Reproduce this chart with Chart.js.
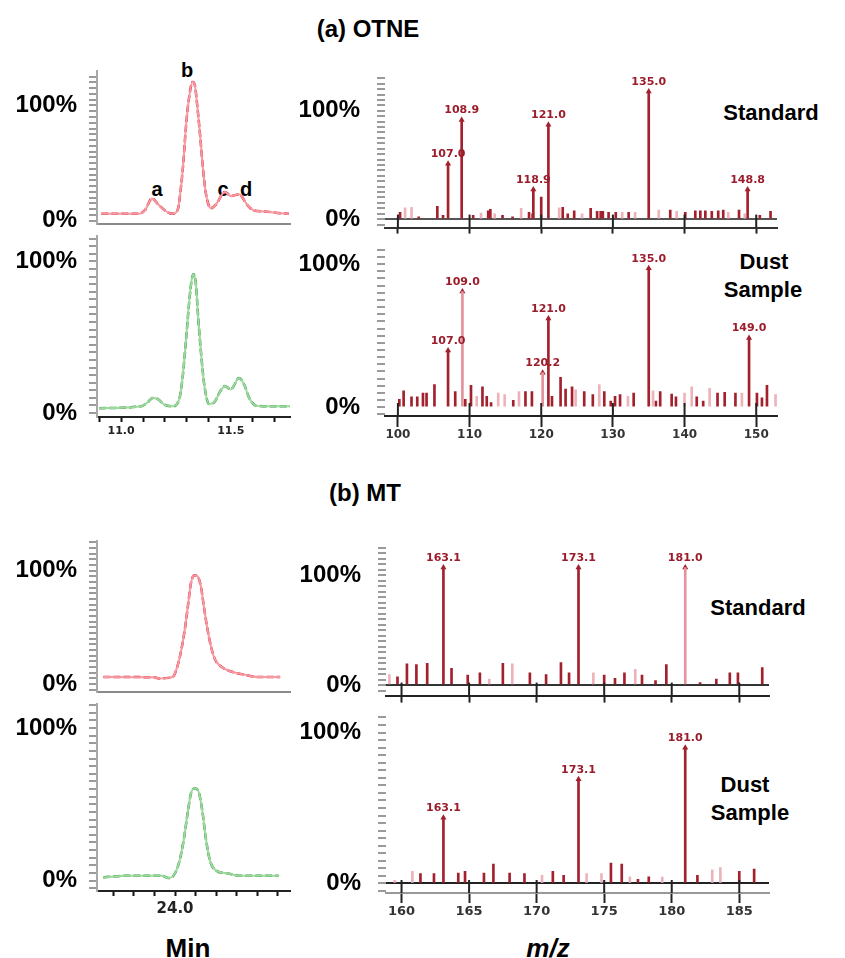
<!DOCTYPE html>
<html>
<head>
<meta charset="utf-8">
<script src="https://cdn.jsdelivr.net/npm/chart.js@4.4.1/dist/chart.umd.min.js"></script>
<style>
    body {margin:0; background:#fff; width:845px; height:958px; position:relative; overflow:hidden; font-family:"Liberation Sans", Arial, sans-serif;}
    .box {position:absolute;}
    .txt {position:absolute; transform:translate(-50%,-50%); font-weight:bold; line-height:1; white-space:nowrap; color:#000;}
</style>
</head>
<body>
<div class="txt" style="left:368px;top:29px;font-size:24px">(a) OTNE</div>
<div class="txt" style="left:365px;top:493px;font-size:24px">(b) MT</div>
<div class="txt" style="left:771px;top:113px;font-size:22px">Standard</div>
<div class="txt" style="left:764px;top:262px;font-size:22px">Dust</div>
<div class="txt" style="left:763px;top:290px;font-size:22px">Sample</div>
<div class="txt" style="left:758px;top:608px;font-size:22px">Standard</div>
<div class="txt" style="left:745px;top:785px;font-size:22px">Dust</div>
<div class="txt" style="left:750px;top:813px;font-size:22px">Sample</div>
<div class="txt" style="left:157px;top:189px;font-size:20px">a</div>
<div class="txt" style="left:187px;top:70px;font-size:20px">b</div>
<div class="txt" style="left:223px;top:189px;font-size:20px">c</div>
<div class="txt" style="left:246px;top:189px;font-size:20px">d</div>
<div class="txt" style="left:188px;top:948px;font-size:26px">Min</div>
<div class="txt" style="left:548px;top:948px;font-size:26px;font-style:italic">m/z</div>

<script>
// ---- (a) OTNE chromatograms (retention time in min, relative abundance in %)
const otneStdTime = [10.91, 11.08, 11.11, 11.14, 11.17, 11.20, 11.235, 11.258, 11.273, 11.285, 11.295, 11.308, 11.326, 11.336,
    11.349, 11.361, 11.373, 11.386, 11.409, 11.432, 11.473, 11.50, 11.538, 11.576, 11.606, 11.652, 11.712, 11.765];
const otneStdAbund = [5.9, 5.9, 9.4, 19.3, 13.9, 8.8, 5.9, 9.4, 29.4, 53.5, 80.2, 104.3, 120.3, 117.6,
    96.2, 72.2, 45.5, 24.1, 10.7, 13.9, 24.9, 21.4, 22.8, 13.4, 8.8, 8.0, 6.7, 5.9];
const otneDustTime = [10.90, 11.091, 11.121, 11.144, 11.167, 11.197, 11.235, 11.265, 11.28, 11.295, 11.311, 11.321, 11.33, 11.341,
    11.351, 11.364, 11.379, 11.401, 11.424, 11.455, 11.473, 11.50, 11.538, 11.561, 11.583, 11.614, 11.667, 11.77];
const otneDustAbund = [3.2, 4.5, 7.1, 9.9, 9.2, 5.6, 4.5, 9.2, 23.1, 46.6, 74.4, 87.2, 91.5, 85.1,
    63.7, 40.2, 18.8, 6.0, 7.1, 15.0, 17.8, 15.6, 23.1, 18.8, 10.3, 4.9, 4.5, 4.5];
const otneTimeTicks = [11.0, 11.5];

// ---- (b) MT chromatograms
const mtStdTime = [23.651, 23.902, 23.919, 23.968, 23.992, 24.008, 24.024, 24.046, 24.062, 24.078, 24.095, 24.111, 24.127,
    24.139, 24.155, 24.176, 24.195, 24.228, 24.277, 24.341, 24.407, 24.512];
const mtStdAbund = [6.2, 5.9, 4.9, 5.4, 6.8, 13.5, 24.3, 46.0, 67.6, 89.2, 95.9, 94.6, 85.2,
    70.3, 51.4, 32.4, 21.6, 14.9, 10.8, 8.1, 6.2, 6.2];
const mtDustTime = [23.651, 23.773, 23.935, 23.968, 23.992, 24.017, 24.041, 24.062, 24.078, 24.098, 24.117, 24.134, 24.15,
    24.171, 24.203, 24.26, 24.309, 24.407, 24.504];
const mtDustAbund = [2.1, 3.2, 3.2, 1.7, 3.2, 10.6, 25.5, 44.7, 57.4, 60.6, 57.4, 44.7, 27.7,
    12.8, 6.4, 4.7, 3.2, 3.2, 3.2];
const mtTimeTicks = [24.0];

// ---- (a) OTNE mass spectra
const stdA_mz = [100.3, 102.9, 105.5, 106.3, 110.5, 112.6, 112.9, 114.6, 116.0, 118.3, 118.8, 120.0, 123.0, 123.7, 124.6, 126.9,
    127.8, 128.3, 128.6, 129.4, 130.4, 132.2, 138.0, 140.1, 141.5, 142.2, 142.9, 143.8, 144.7, 145.4, 147.6, 150.5, 152.0];
const stdA_int = [6.3, 2.2, 11.8, 3.6, 3.6, 7.7, 9.1, 3.6, 2.2, 6.3, 5.0, 20.3, 11.0, 5.0, 7.7, 9.9,
    7.2, 7.2, 7.2, 6.3, 6.3, 6.3, 8.3, 6.3, 7.7, 7.7, 7.7, 7.2, 7.7, 8.3, 8.3, 3.6, 7.2];
const stdA_mzLight = [101.0, 101.9, 111.6, 113.5, 117.2, 122.5, 125.7, 131.3, 133.1, 136.4, 138.9, 146.1, 148.4];
const stdA_intLight = [10.5, 11.0, 5.5, 5.0, 9.9, 10.5, 5.0, 6.3, 6.3, 8.3, 7.2, 6.3, 5.0];
const stdA_peakMz = [107.0, 108.9, 118.9, 121.0, 135.0, 148.8];
const stdA_peakInt = [51.0, 91.4, 27.3, 87.2, 117.8, 27.3];
const stdA_peakLabel = ['107.0', '108.9', '118.9', '121.0', '135.0', '148.8'];

const dustA_mz = [100.2, 100.8, 101.9, 102.7, 103.5, 104.0, 105.1, 108.0, 109.4, 110.2, 111.8, 112.4, 113.0, 116.1, 117.8,
    118.7, 121.5, 122.7, 123.4, 124.3, 126.0, 127.2, 128.8, 129.7, 130.3, 131.0, 132.9, 136.0, 136.6, 138.2,
    138.8, 141.7, 142.6, 144.6, 145.6, 147.1, 150.1, 150.8, 151.5];
const dustA_int = [5.5, 11.4, 7.3, 7.3, 9.9, 9.9, 15.8, 11.0, 5.5, 15.4, 14.3, 7.7, 3.3, 4.8, 11.0,
    11.0, 7.7, 20.9, 12.7, 14.3, 11.0, 8.8, 11.0, 4.4, 7.7, 8.8, 9.9, 4.4, 11.0, 9.2,
    7.3, 7.3, 4.4, 9.9, 10.5, 9.9, 9.9, 6.6, 15.4];
const dustA_mzLight = [111.0, 114.0, 114.9, 116.9, 124.8, 128.1, 132.1, 135.6, 140.0, 141.0, 143.5, 148.0, 152.7];
const dustA_intLight = [7.7, 9.9, 8.8, 11.0, 12.1, 15.8, 7.7, 11.4, 9.9, 14.3, 13.2, 9.9, 8.8];
const dustA_peakMz = [107.0, 109.0, 120.2, 121.0, 135.0, 149.0];
const dustA_peakInt = [39.6, 80.9, 24.2, 62.0, 97.1, 48.4];
const dustA_peakLabel = ['107.0', '109.0', '120.2', '121.0', '135.0', '149.0'];
const mzTicksA = [100, 110, 120, 130, 140, 150];

// ---- (b) MT mass spectra
const stdB_mz = [159.7, 160.4, 161.1, 161.9, 163.7, 164.9, 165.8, 167.5, 169.5, 170.7, 171.8, 172.4, 175.0, 175.8, 176.5,
    177.8, 178.8, 179.6, 182.1, 183.3, 184.3, 184.9, 186.7];
const stdB_int = [7.4, 19.2, 18.6, 19.7, 15.1, 9.0, 11.0, 19.7, 11.0, 9.6, 20.5, 11.0, 9.0, 6.0, 11.0,
    9.0, 4.1, 18.6, 2.2, 5.5, 11.0, 11.0, 15.9];
const stdB_mzLight = [159.1, 166.5, 168.2, 174.2, 177.3];
const stdB_intLight = [9.6, 5.5, 19.2, 11.0, 14.2];
const stdB_peakMz = [163.1, 173.1, 181.0];
const stdB_peakInt = [106.8, 106.8, 106.8];
const stdB_peakLabel = ['163.1', '173.1', '181.0'];

const dustB_mz = [161.4, 162.4, 164.2, 164.7, 166.1, 166.8, 168.0, 169.1, 171.2, 172.0, 175.5, 176.3, 177.5, 178.3, 181.9,
    185.0, 186.1];
const dustB_int = [6.5, 6.5, 6.9, 8.0, 6.9, 12.8, 6.9, 6.5, 8.0, 5.4, 13.6, 12.8, 2.7, 4.4, 5.4, 8.0, 9.6];
const dustB_mzLight = [159.5, 160.8, 170.4, 173.7, 174.8, 176.9, 179.3, 183.0, 183.6];
const dustB_intLight = [2.1, 8.0, 5.4, 6.5, 6.5, 4.4, 4.2, 9.0, 10.5];
const dustB_peakMz = [163.1, 173.1, 181.0];
const dustB_peakInt = [43.5, 69.0, 90.0];
const dustB_peakLabel = ['163.1', '173.1', '181.0'];
const mzTicksB = [160, 165, 170, 175, 180, 185];

// ---- styles
const FONT = '"Liberation Sans", Arial, sans-serif';
const TICKFONT = '"DejaVu Sans", sans-serif';
const RED = {light: '#f59aa2', dark: '#e42331'};
const GREEN = {light: '#9fd89f', dark: '#239631'};
const DARK = '#a3202d', PALE = '#ecb4ba', PALE_PEAK = '#e4939c', LABEL = '#9b1d2b';
Chart.defaults.font.family = FONT;

const pts = (xs, ys) => xs.map((x, i) => ({x: x, y: ys[i]}));
const pctLabel = v => (v === 0 ? '0%' : (v === 100 ? '100%' : ''));
const inList = (list, v) => list.some(l => Math.abs(l - v) < 1e-6);

// small tick segments that cross the m/z axis line
const crossTicks = {
    id: 'crossTicks',
    afterDatasetsDraw(chart, args, opts) {
        if (!opts.above) return;
        const {ctx, chartArea} = chart;
        const xs = chart.scales.x;
        ctx.save();
        ctx.strokeStyle = '#222';
        ctx.lineWidth = 2;
        xs.ticks.forEach(t => {
            const px = xs.getPixelForValue(t.value);
            ctx.beginPath();
            ctx.moveTo(px, chartArea.bottom - opts.above);
            ctx.lineTo(px, chartArea.bottom);
            ctx.stroke();
        });
        ctx.restore();
    }
};

// m/z labels above the arrow of the main peaks
const peakText = {
    id: 'peakText',
    afterDatasetsDraw(chart) {
        const ctx = chart.ctx;
        chart.data.datasets.forEach((ds, i) => {
            if (!ds.peakLabels) return;
            const meta = chart.getDatasetMeta(i);
            ctx.save();
            ctx.font = 'bold 11px ' + TICKFONT;
            ctx.fillStyle = LABEL;
            ctx.textAlign = 'center';
            ctx.textBaseline = 'bottom';
            meta.data.forEach((el, j) => ctx.fillText(ds.peakLabels[j], el.x, el.y - 4));
            ctx.restore();
        });
    }
};

// canvas placed so that the plot area lands on the given rectangle
function frame(area, axisW, axisH) {
    const padT = 20, padR = 12, padB = 20;
    const div = document.createElement('div');
    div.className = 'box';
    div.style.left = (area.l - axisW) + 'px';
    div.style.top = (area.t - padT) + 'px';
    div.style.width = (axisW + area.r - area.l + padR) + 'px';
    div.style.height = (padT + area.b - area.t + axisH + padB) + 'px';
    const canvas = document.createElement('canvas');
    div.appendChild(canvas);
    document.body.appendChild(div);
    return {canvas, padding: {left: 0, top: padT, right: padR, bottom: padB}};
}

function yAxis(min, max, w, pad, border, zero) {
    return {
        min: min, max: max,
        afterFit: s => { s.width = w; },
        border: {display: !!border, color: border || '#999', width: 2},
        grid: {
            drawOnChartArea: true,
            color: c => (zero && c.tick && c.tick.value === 0 ? zero : 'rgba(0,0,0,0)'),
            lineWidth: 2,
            tickLength: 8, tickWidth: 2, tickColor: '#9a9a9a'
        },
        ticks: {
            stepSize: 5, autoSkip: false, includeBounds: false, padding: pad, color: '#000',
            font: {family: FONT, size: 24, weight: 'bold'},
            callback: pctLabel
        }
    };
}

function baseOptions(padding, scales, extra) {
    return {
        animation: false, responsive: true, maintainAspectRatio: false, events: [],
        layout: {padding: padding},
        plugins: Object.assign({legend: {display: false}, tooltip: {enabled: false}}, extra || {}),
        scales: scales
    };
}

function chromatogram(area, time, abund, col, yr, xo) {
    const f = frame(area, 97, xo.h);
    new Chart(f.canvas, {
        type: 'line',
        data: {
            datasets: [
                {data: pts(time, abund), borderColor: col.light, borderWidth: 2, pointRadius: 0, cubicInterpolationMode: 'monotone'},
                {data: pts(time, abund), borderColor: col.dark, borderWidth: 2.5, borderDash: [7, 3], pointRadius: 0, cubicInterpolationMode: 'monotone'}
            ]
        },
        options: baseOptions(f.padding, {
            x: {
                type: 'linear', min: xo.min, max: xo.max, offset: false,
                afterFit: s => { s.height = xo.h; },
                border: {display: true, color: xo.line, width: 2},
                grid: {drawOnChartArea: false, offset: false, drawTicks: xo.h > 0, tickLength: 5, tickWidth: 2, tickColor: '#111'},
                ticks: {
                    display: xo.h > 0, stepSize: 0.1, autoSkip: false, includeBounds: false, maxRotation: 0,
                    padding: xo.pad || 3, color: '#222',
                    font: {family: TICKFONT, size: xo.size || 11, weight: 'bold'},
                    callback: v => (inList(xo.labels || [], v) ? v.toFixed(1) : '')
                }
            },
            y: yAxis(yr[0], yr[1], 97, 12, '#a8a8a8', null)
        })
    });
}

function spectrum(area, s, yr, xo) {
    const f = frame(area, 100, xo.h);
    const faint = s.faint || [];
    new Chart(f.canvas, {
        type: 'bar',
        data: {
            datasets: [
                {data: pts(s.mzLight, s.intLight), backgroundColor: PALE, barThickness: 2, grouped: false},
                {data: pts(s.mz, s.int), backgroundColor: DARK, barThickness: 2, grouped: false},
                {data: pts(s.peakMz, s.peakInt), backgroundColor: s.peakMz.map(m => (faint.includes(m) ? PALE_PEAK : DARK)), barThickness: 2, grouped: false},
                {type: 'scatter', data: pts(s.peakMz, s.peakInt), pointStyle: 'triangle', pointRadius: 3.5,
                    pointBackgroundColor: DARK, pointBorderWidth: 0, peakLabels: s.peakLabel}
            ]
        },
        plugins: [crossTicks, peakText],
        options: baseOptions(f.padding, {
            x: {
                type: 'linear', min: xo.min, max: xo.max, offset: false,
                afterFit: sc => { sc.height = xo.h; },
                border: {display: true, color: xo.line, width: 2},
                grid: {drawOnChartArea: false, offset: false, tickLength: xo.tick, tickWidth: 2, tickColor: '#222'},
                ticks: {
                    display: !!xo.labels, stepSize: xo.step, autoSkip: false, includeBounds: false, maxRotation: 0,
                    padding: 1, color: '#333',
                    font: {family: TICKFONT, size: xo.size || 12, weight: 'bold'},
                    callback: v => (inList(xo.labels || [], v) ? String(Math.round(v)) : '')
                }
            },
            y: yAxis(yr[0], yr[1], 100, 17, null, xo.zero)
        }, {crossTicks: {above: 13}})
    });
}

// (a) OTNE
chromatogram({l: 97, r: 290, t: 65, b: 230}, otneStdTime, otneStdAbund, RED, [-2.6, 129.6],
    {min: 10.89, max: 11.77, h: 0, line: '#8a8a8a'});
chromatogram({l: 97, r: 290, t: 230, b: 417}, otneDustTime, otneDustAbund, GREEN, [-2.6, 116.5],
    {min: 10.89, max: 11.77, h: 22, line: '#222', labels: otneTimeTicks, size: 11, pad: 3});
spectrum({l: 385, r: 777, t: 65, b: 232},
    {mz: stdA_mz, int: stdA_int, mzLight: stdA_mzLight, intLight: stdA_intLight,
        peakMz: stdA_peakMz, peakInt: stdA_peakInt, peakLabel: stdA_peakLabel},
    [-7.8, 131.7], {min: 98.2, max: 152.9, step: 10, h: 7, tick: 6, line: '#333', zero: '#555'});
spectrum({l: 385, r: 777, t: 232, b: 416},
    {mz: dustA_mz, int: dustA_int, mzLight: dustA_mzLight, intLight: dustA_intLight,
        peakMz: dustA_peakMz, peakInt: dustA_peakInt, peakLabel: dustA_peakLabel, faint: [109.0, 120.2]},
    [-6.1, 114.5], {min: 98.2, max: 152.9, step: 10, h: 26, tick: 11, line: '#222', labels: mzTicksA, size: 12});

// (b) MT
chromatogram({l: 97, r: 290, t: 535, b: 698}, mtStdTime, mtStdAbund, RED, [-6.7, 125.7],
    {min: 23.62, max: 24.56, h: 0, line: '#8a8a8a'});
chromatogram({l: 97, r: 290, t: 698, b: 891}, mtDustTime, mtDustAbund, GREEN, [-6.8, 115.5],
    {min: 23.62, max: 24.56, h: 26, line: '#222', labels: mtTimeTicks, size: 15, pad: 4});
spectrum({l: 386, r: 769, t: 535, b: 700},
    {mz: stdB_mz, int: stdB_int, mzLight: stdB_mzLight, intLight: stdB_intLight,
        peakMz: stdB_peakMz, peakInt: stdB_peakInt, peakLabel: stdB_peakLabel, faint: [181.0]},
    [-9.6, 126], {min: 158.85, max: 187.2, step: 5, h: 7, tick: 7, line: '#222', zero: '#333'});
spectrum({l: 386, r: 769, t: 700, b: 893},
    {mz: dustB_mz, int: dustB_int, mzLight: dustB_mzLight, intLight: dustB_intLight,
        peakMz: dustB_peakMz, peakInt: dustB_peakInt, peakLabel: dustB_peakLabel},
    [-6.3, 114], {min: 158.85, max: 187.2, step: 5, h: 28, tick: 10, line: '#999', zero: '#222', labels: mzTicksB, size: 13});
</script>
</body>
</html>
